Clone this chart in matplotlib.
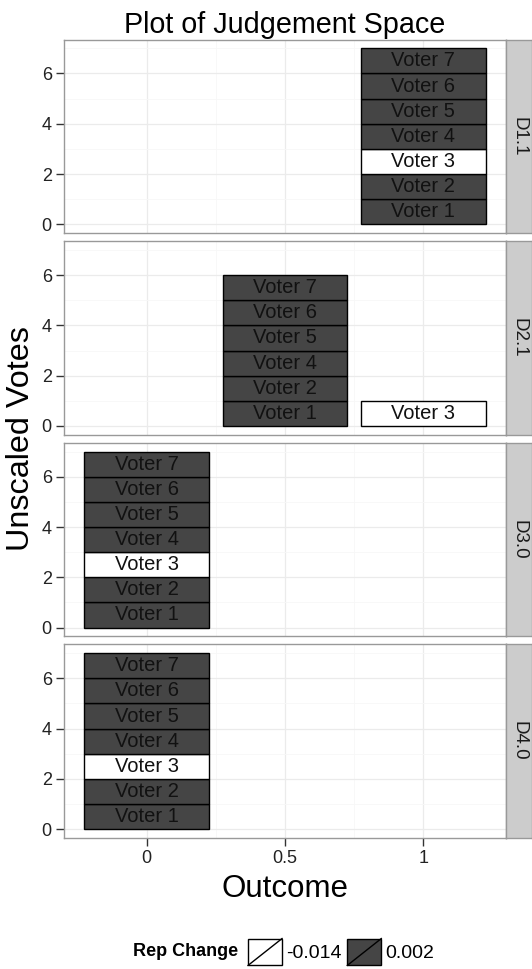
#Plot of judgement space: one panel per decision, stacked voter bars at each outcome
import numpy as np
import matplotlib.pyplot as plt
from matplotlib.patches import Rectangle, Patch
from matplotlib.lines import Line2D
from matplotlib.legend_handler import HandlerPatch

plt.rcParams['font.family'] = ['Liberation Sans', 'DejaVu Sans']

#data
decisions = ['D1.1', 'D2.1', 'D3.0', 'D4.0']
voters = ['Voter 1', 'Voter 2', 'Voter 3', 'Voter 4', 'Voter 5', 'Voter 6', 'Voter 7']
outcome_d11 = [1, 1, 1, 1, 1, 1, 1]
outcome_d21 = [0.5, 0.5, 1, 0.5, 0.5, 0.5, 0.5]
outcome_d30 = [0, 0, 0, 0, 0, 0, 0]
outcome_d40 = [0, 0, 0, 0, 0, 0, 0]
rep_change = [0.002, 0.002, -0.014, 0.002, 0.002, 0.002, 0.002]
outcomes = [outcome_d11, outcome_d21, outcome_d30, outcome_d40]

fill_colors = {-0.014: 'white', 0.002: '#454545'}
bar_width = 0.45

fig = plt.figure(figsize=(5.32, 9.69), dpi=100)
left, right = 0.1209, 0.9506
bottom, top = 0.1352, 0.9592
gs = fig.add_gridspec(4, 1, left=left, right=right, bottom=bottom, top=top, hspace=0.0416)

for i, (dec, outc) in enumerate(zip(decisions, outcomes)):
    ax = fig.add_subplot(gs[i])
    stack = {}
    for voter, x, rc in zip(voters, outc, rep_change):
        base = stack.get(x, 0)
        ax.bar(x, 1, bottom=base, width=bar_width, color=fill_colors[rc],
               edgecolor='black', linewidth=1, zorder=3)
        ax.text(x, base + 0.5, voter, ha='center', va='center', fontsize=14.5,
                color='#111111', zorder=4)
        stack[x] = base + 1
    ax.set_xlim(-0.2975, 1.2975)
    ax.set_ylim(-0.35, 7.35)
    ax.set_xticks([0, 0.5, 1])
    ax.set_xticklabels(['0', '0.5', '1'])
    ax.set_xticks([0.25, 0.75], minor=True)
    ax.set_yticks([0, 2, 4, 6])
    ax.set_yticks([1, 3, 5, 7], minor=True)
    ax.grid(True, which='major', color='#EBEBEB', linewidth=0.9, zorder=0)
    ax.grid(True, which='minor', color='#F7F7F7', linewidth=0.6, zorder=0)
    ax.set_axisbelow(True)
    ax.tick_params(which='major', length=6, width=1, color='#333333', labelsize=13,
                   labelcolor='#222222', pad=3)
    ax.tick_params(which='minor', length=0)
    if i < 3:
        ax.tick_params(axis='x', which='major', length=0, labelbottom=False)
    for s in ax.spines.values():
        s.set_color('#999999')
        s.set_linewidth(1)

    #facet strip on the right
    pos = ax.get_position()
    sax = fig.add_axes([pos.x1, pos.y0, 0.0494, pos.height])
    sax.set_facecolor('#CCCCCC')
    sax.set_xticks([])
    sax.set_yticks([])
    for s in sax.spines.values():
        s.set_color('#999999')
        s.set_linewidth(1)
    sax.text(0.5, 0.5, dec, rotation=-90, ha='center', va='center', fontsize=13.5,
             color='#1a1a1a', transform=sax.transAxes)

#titles
fig.text(285 / 532, 1 - 33 / 969, 'Plot of Judgement Space', ha='center', va='baseline', fontsize=20.7)
fig.text(285 / 532, 1 - 897 / 969, 'Outcome', ha='center', va='baseline', fontsize=22.5)
fig.text(21.5 / 532, 1 - 439 / 969, 'Unscaled Votes', ha='center', va='center', rotation=90, fontsize=23.3)


#legend keys have a diagonal slash like the ggplot bar keys
class SlashHandler(HandlerPatch):
    def create_artists(self, legend, orig_handle, xdescent, ydescent, width, height, fontsize, trans):
        r = Rectangle((-xdescent, -ydescent), width, height, facecolor=orig_handle.get_facecolor(),
                      edgecolor='black', linewidth=1, transform=trans)
        l = Line2D([-xdescent, -xdescent + width], [-ydescent, -ydescent + height],
                   color='black', linewidth=1, transform=trans)
        return [r, l]


handles = [Patch(facecolor=fill_colors[v]) for v in sorted(fill_colors)]
labels = [('%.3f' % v) for v in sorted(fill_colors)]
fig.text(238 / 532, 1 - 952 / 969, 'Rep Change', ha='right', va='center', fontsize=13, fontweight='bold')
fig.legend(handles, labels, handler_map={Patch: SlashHandler()}, ncol=2, frameon=False,
           loc='center left', bbox_to_anchor=(248 / 532, 1 - 952 / 969), borderpad=0, borderaxespad=0,
           handlelength=1.75, handleheight=1.75, handletextpad=0.2, columnspacing=0.3, fontsize=14)

plt.savefig('out.png', dpi=100)
